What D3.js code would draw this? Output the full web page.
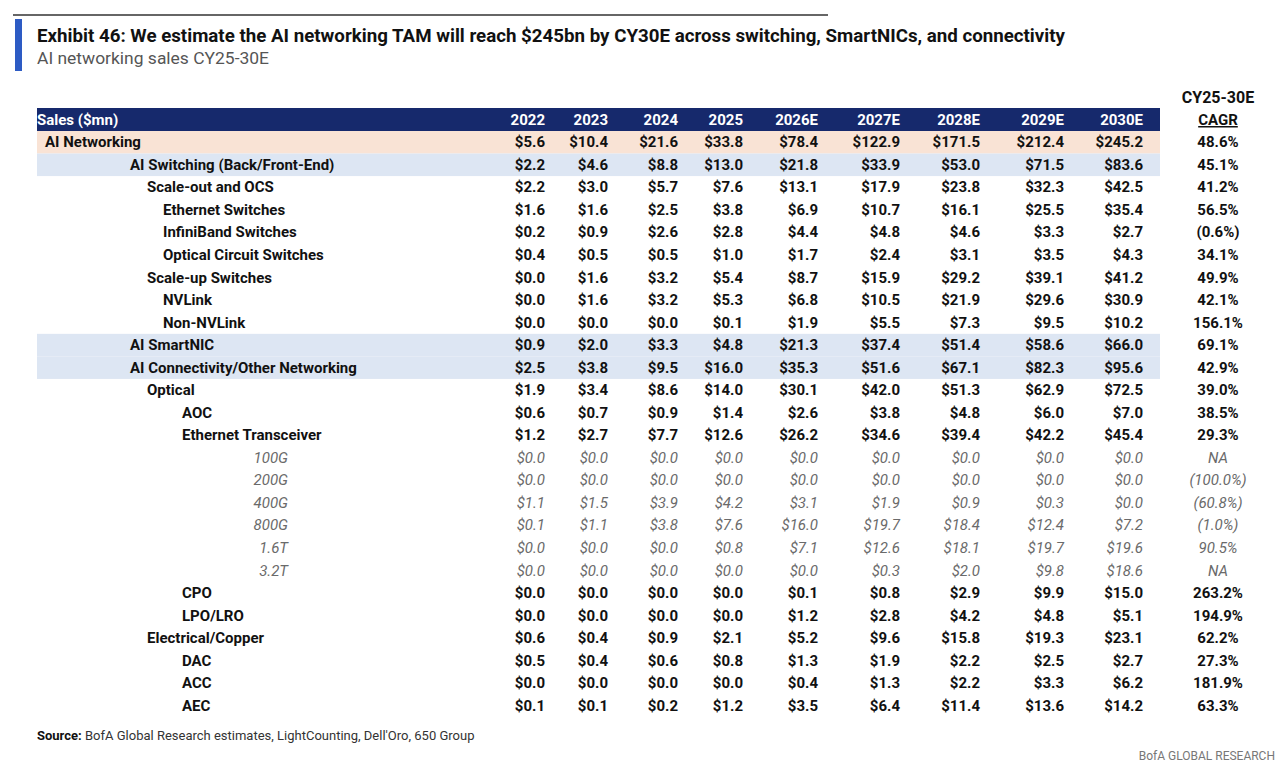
<!DOCTYPE html>
<html>
<head>
<meta charset="utf-8">
<script src="https://cdn.jsdelivr.net/npm/d3@7"></script>
<style>
  body { margin: 0; background: #fff; }
  svg text { font-family: Roboto, "Open Sans", sans-serif; }
</style>
</head>
<body>
<div id="chart"></div>
<script>
// table data
const years = ["2022", "2023", "2024", "2025", "2026E", "2027E", "2028E", "2029E", "2030E"];

const rowLabels = [
    "AI Networking", "AI Switching (Back/Front-End)", "Scale-out and OCS", "Ethernet Switches",
    "InfiniBand Switches", "Optical Circuit Switches", "Scale-up Switches", "NVLink", "Non-NVLink",
    "AI SmartNIC", "AI Connectivity/Other Networking", "Optical", "AOC", "Ethernet Transceiver",
    "100G", "200G", "400G", "800G", "1.6T", "3.2T", "CPO", "LPO/LRO", "Electrical/Copper",
    "DAC", "ACC", "AEC"
];

// outline depth of each row (0 = total, 5 = transceiver speed)
const rowDepth = [0, 1, 2, 3, 3, 3, 2, 3, 3, 1, 1, 2, 4, 4, 5, 5, 5, 5, 5, 5, 4, 4, 2, 4, 4, 4];

const sales = [
    [5.6, 10.4, 21.6, 33.8, 78.4, 122.9, 171.5, 212.4, 245.2],
    [2.2, 4.6, 8.8, 13.0, 21.8, 33.9, 53.0, 71.5, 83.6],
    [2.2, 3.0, 5.7, 7.6, 13.1, 17.9, 23.8, 32.3, 42.5],
    [1.6, 1.6, 2.5, 3.8, 6.9, 10.7, 16.1, 25.5, 35.4],
    [0.2, 0.9, 2.6, 2.8, 4.4, 4.8, 4.6, 3.3, 2.7],
    [0.4, 0.5, 0.5, 1.0, 1.7, 2.4, 3.1, 3.5, 4.3],
    [0.0, 1.6, 3.2, 5.4, 8.7, 15.9, 29.2, 39.1, 41.2],
    [0.0, 1.6, 3.2, 5.3, 6.8, 10.5, 21.9, 29.6, 30.9],
    [0.0, 0.0, 0.0, 0.1, 1.9, 5.5, 7.3, 9.5, 10.2],
    [0.9, 2.0, 3.3, 4.8, 21.3, 37.4, 51.4, 58.6, 66.0],
    [2.5, 3.8, 9.5, 16.0, 35.3, 51.6, 67.1, 82.3, 95.6],
    [1.9, 3.4, 8.6, 14.0, 30.1, 42.0, 51.3, 62.9, 72.5],
    [0.6, 0.7, 0.9, 1.4, 2.6, 3.8, 4.8, 6.0, 7.0],
    [1.2, 2.7, 7.7, 12.6, 26.2, 34.6, 39.4, 42.2, 45.4],
    [0.0, 0.0, 0.0, 0.0, 0.0, 0.0, 0.0, 0.0, 0.0],
    [0.0, 0.0, 0.0, 0.0, 0.0, 0.0, 0.0, 0.0, 0.0],
    [1.1, 1.5, 3.9, 4.2, 3.1, 1.9, 0.9, 0.3, 0.0],
    [0.1, 1.1, 3.8, 7.6, 16.0, 19.7, 18.4, 12.4, 7.2],
    [0.0, 0.0, 0.0, 0.8, 7.1, 12.6, 18.1, 19.7, 19.6],
    [0.0, 0.0, 0.0, 0.0, 0.0, 0.3, 2.0, 9.8, 18.6],
    [0.0, 0.0, 0.0, 0.0, 0.1, 0.8, 2.9, 9.9, 15.0],
    [0.0, 0.0, 0.0, 0.0, 1.2, 2.8, 4.2, 4.8, 5.1],
    [0.6, 0.4, 0.9, 2.1, 5.2, 9.6, 15.8, 19.3, 23.1],
    [0.5, 0.4, 0.6, 0.8, 1.3, 1.9, 2.2, 2.5, 2.7],
    [0.0, 0.0, 0.0, 0.0, 0.4, 1.3, 2.2, 3.3, 6.2],
    [0.1, 0.1, 0.2, 1.2, 3.5, 6.4, 11.4, 13.6, 14.2]
];

// CY25-30E CAGR, null = NA
const cagr = [48.6, 45.1, 41.2, 56.5, -0.6, 34.1, 49.9, 42.1, 156.1, 69.1, 42.9, 39.0, 38.5, 29.3,
    null, -100.0, -60.8, -1.0, 90.5, null, 263.2, 194.9, 62.2, 27.3, 181.9, 63.3];

const width = 1280, height = 764;

const svg = d3.select("#chart").append("svg")
    .attr("width", width)
    .attr("height", height);

// title block
svg.append("line")
    .attr("x1", 13).attr("x2", 828)
    .attr("y1", 15).attr("y2", 15)
    .attr("stroke", "#333").attr("stroke-width", 1.5);

svg.append("rect")
    .attr("x", 15).attr("y", 19)
    .attr("width", 7).attr("height", 52)
    .attr("fill", "#2d5bc4");

svg.append("text")
    .attr("x", 37).attr("y", 42)
    .attr("font-size", 18).attr("font-weight", "bold").attr("fill", "#111")
    .attr("textLength", 1028).attr("lengthAdjust", "spacingAndGlyphs")
    .text("Exhibit 46: We estimate the AI networking TAM will reach $245bn by CY30E across switching, SmartNICs, and connectivity");

svg.append("text")
    .attr("x", 37).attr("y", 64)
    .attr("font-size", 16).attr("fill", "#555")
    .attr("textLength", 232).attr("lengthAdjust", "spacingAndGlyphs")
    .text("AI networking sales CY25-30E");

// scales
const tableLeft = 37, tableRight = 1160;

const y = d3.scaleBand()
    .domain(d3.range(rowLabels.length))
    .range([131, 717]);

const x = d3.scaleOrdinal()
    .domain(years)
    .range([545, 608, 678, 743, 818, 900, 980, 1064, 1143]);

const cagrX = 1218;

const indent = {0: 45, 1: 130, 2: 147, 3: 163, 4: 182};
const speedRight = 288;

const fmtVal = d => "$" + d3.format(".1f")(d);
const fmtCagr = d => d === null ? "NA" : (d < 0 ? "(" + d3.format(".1f")(-d) + "%)" : d3.format(".1f")(d) + "%");

// header
svg.append("rect")
    .attr("x", tableLeft).attr("y", 108)
    .attr("width", tableRight - tableLeft).attr("height", 23)
    .attr("fill", "#16296c");

svg.append("text")
    .attr("x", tableLeft).attr("y", 125)
    .attr("font-size", 15).attr("font-weight", "bold").attr("fill", "#fff")
    .text("Sales ($mn)");

svg.append("g").selectAll("text")
    .data(years)
    .join("text")
    .attr("x", d => x(d)).attr("y", 125)
    .attr("text-anchor", "end")
    .attr("font-size", 15).attr("font-weight", "bold").attr("fill", "#fff")
    .text(d => d);

svg.append("text")
    .attr("x", cagrX).attr("y", 103)
    .attr("text-anchor", "middle")
    .attr("font-size", 16).attr("font-weight", "bold").attr("fill", "#111")
    .text("CY25-30E");

svg.append("text")
    .attr("x", cagrX).attr("y", 125)
    .attr("text-anchor", "middle")
    .attr("font-size", 15).attr("font-weight", "bold").attr("fill", "#111")
    .attr("text-decoration", "underline")
    .text("CAGR");

// row highlights
const rowFill = i => rowDepth[i] === 0 ? "#f9e3d5" : (rowDepth[i] === 1 ? "#dde6f3" : null);

svg.append("g").selectAll("rect")
    .data(d3.range(rowLabels.length).filter(i => rowFill(i)))
    .join("rect")
    .attr("x", tableLeft)
    .attr("y", i => y(i))
    .attr("width", tableRight - tableLeft)
    .attr("height", y.bandwidth())
    .attr("fill", i => rowFill(i));

// rows
const rows = svg.append("g").selectAll("g")
    .data(d3.range(rowLabels.length))
    .join("g")
    .attr("transform", i => `translate(0, ${y(i) + y.bandwidth() / 2 + 5})`)
    .attr("font-size", 15)
    .attr("font-weight", i => rowDepth[i] === 5 ? "normal" : "bold")
    .attr("font-style", i => rowDepth[i] === 5 ? "italic" : "normal")
    .attr("fill", i => rowDepth[i] === 5 ? "#6a6a6a" : "#111");

rows.append("text")
    .attr("x", i => rowDepth[i] === 5 ? speedRight : indent[rowDepth[i]])
    .attr("text-anchor", i => rowDepth[i] === 5 ? "end" : "start")
    .text(i => rowLabels[i]);

rows.selectAll("text.val")
    .data(i => sales[i].map((v, j) => ({v: v, year: years[j]})))
    .join("text")
    .attr("class", "val")
    .attr("x", d => x(d.year))
    .attr("text-anchor", "end")
    .text(d => fmtVal(d.v));

rows.append("text")
    .attr("x", cagrX)
    .attr("text-anchor", "middle")
    .text(i => fmtCagr(cagr[i]));

// footer
const src = svg.append("text")
    .attr("x", tableLeft).attr("y", 740)
    .attr("font-size", 13).attr("fill", "#333");
src.append("tspan").attr("font-weight", "bold").attr("fill", "#111").text("Source:");
src.append("tspan").text(" BofA Global Research estimates, LightCounting, Dell'Oro, 650 Group");

svg.append("text")
    .attr("x", 1275).attr("y", 760)
    .attr("text-anchor", "end")
    .attr("font-size", 12).attr("fill", "#777")
    .text("BofA GLOBAL RESEARCH");
</script>
</body>
</html>
